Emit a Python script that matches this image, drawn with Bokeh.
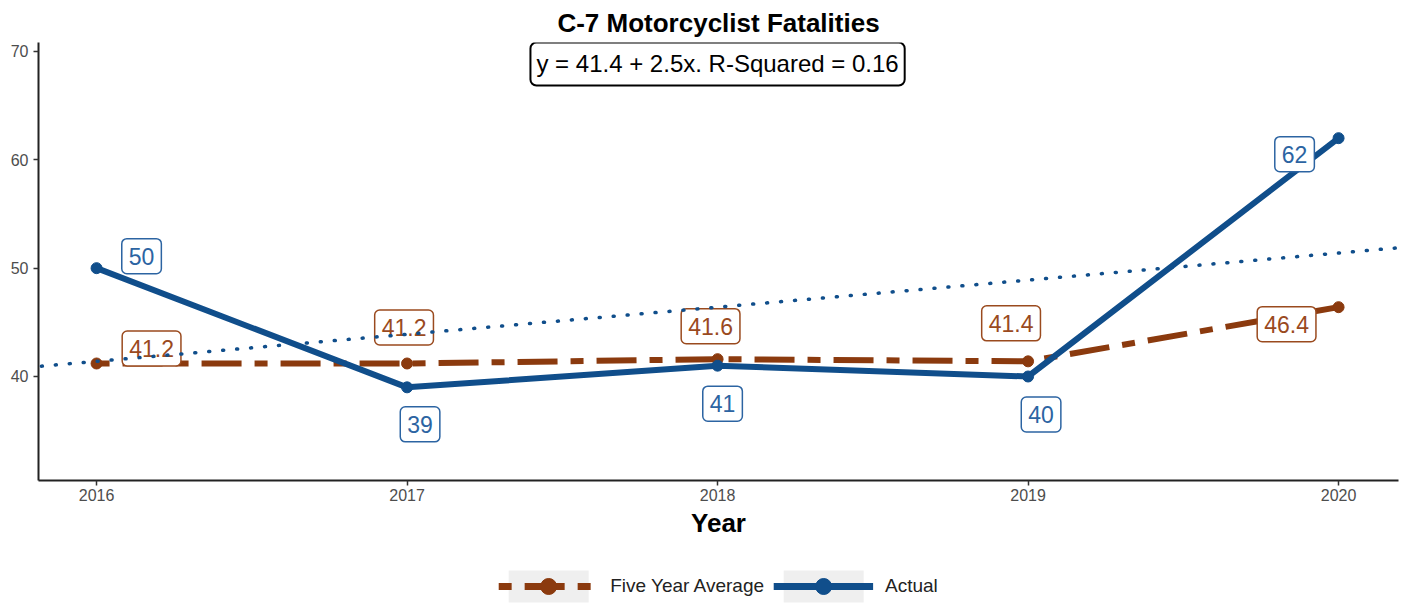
import numpy as np
from bokeh.plotting import figure
from bokeh.layouts import column
from bokeh.models import Range1d, FixedTicker, Legend, LegendItem, Slope, Label, ColumnDataSource
from bokeh.core.properties import value
from bokeh.embed import file_html
from bokeh.resources import INLINE

# ---- data ----
years = [2016, 2017, 2018, 2019, 2020]
actual = [50, 39, 41, 40, 62]
five_year_avg = [41.2, 41.2, 41.6, 41.4, 46.4]
actual_labels = ["50", "39", "41", "40", "62"]
avg_labels = ["41.2", "41.2", "41.6", "41.4", "46.4"]
x_ticks = [2016, 2017, 2018, 2019, 2020]
y_ticks = [40, 50, 60, 70]
series_names = ["Five Year Average", "Actual"]
title_text = "C-7 Motorcyclist Fatalities"
x_title = "Year"

# label nudges in screen pixels (label-repel style)
actual_dx = [45, 13, 5, 13, -44]
actual_dy = [-12, 37, 38, 38, 16]
avg_dx = [55, -3, -7, -17, -52]
avg_dy = [-15, -36, -33, -38, 17]

# ---- styles ----
BLUE = "#104E8B"
BROWN = "#8B3A0E"
BLUE_LBL = "#2C64A2"
BROWN_LBL = "#9A4A1E"
FONT = "Liberation Sans"
AVG_DASH = "13 13 40 13"

# regression of actual on year index
xi = np.arange(len(years))
slope, intercept = np.polyfit(xi, actual, 1)
pred = intercept + slope * xi
r2 = 1 - np.sum((np.array(actual) - pred) ** 2) / np.sum((np.array(actual) - np.mean(actual)) ** 2)
eq_text = f"y = {intercept:.1f} + {slope:.1f}x. R-Squared = {r2:.2f}"

p = figure(
    frame_width=1360, frame_height=438,
    x_range=Range1d(2015.813, 2020.193), y_range=Range1d(30.40, 70.83),
    output_backend="svg", toolbar_location=None,
    min_border_left=38, min_border_right=10, min_border_top=42, min_border_bottom=82,
)
p.outline_line_color = None
p.xgrid.visible = False
p.ygrid.visible = False

p.title.text = title_text
p.title.align = "center"
p.title.text_font = FONT
p.title.text_font_size = "26px"
p.title.text_font_style = "bold"
p.title.text_color = "black"
p.title.standoff = 10

for ax in (p.xaxis[0], p.yaxis[0]):
    ax.axis_line_color = "#222222"
    ax.axis_line_width = 2
    ax.major_tick_line_color = "#333333"
    ax.major_tick_line_width = 1.5
    ax.major_tick_out = 5
    ax.major_tick_in = 0
    ax.minor_tick_line_color = None
    ax.major_label_text_font = FONT
    ax.major_label_text_font_size = "16px"
    ax.major_label_text_color = "#4d4d4d"
p.xaxis.ticker = FixedTicker(ticks=x_ticks)
p.yaxis.ticker = FixedTicker(ticks=y_ticks)
p.xaxis.major_label_standoff = 3
p.yaxis.major_label_standoff = 5
p.xaxis.axis_label = x_title
p.xaxis.axis_label_text_font = FONT
p.xaxis.axis_label_text_font_size = "26px"
p.xaxis.axis_label_text_font_style = "bold"
p.xaxis.axis_label_text_color = "black"
p.xaxis.axis_label_standoff = 4

# trend line
p.add_layout(Slope(gradient=slope, y_intercept=intercept - slope * years[0],
                   line_color=BLUE, line_width=3.5, line_dash="1 13", line_cap="round"))

src = ColumnDataSource(dict(x=years, act=actual, avg=five_year_avg,
                            act_t=actual_labels, avg_t=avg_labels,
                            adx=actual_dx, ady=actual_dy, vdx=avg_dx, vdy=avg_dy))

p.line("x", "avg", source=src, line_color=BROWN, line_width=6, line_dash=AVG_DASH)
p.line("x", "act", source=src, line_color=BLUE, line_width=6)
p.scatter("x", "avg", source=src, size=11, fill_color=BROWN, line_color=BROWN)
p.scatter("x", "act", source=src, size=11, fill_color=BLUE, line_color=BLUE)

common = dict(source=src, text_align="center", text_baseline="middle",
              text_font=value(FONT), text_font_size="23px",
              background_fill_color="white", border_line_width=1.5,
              padding=(7, 9), border_radius=5)
p.text(x="x", y="avg", text="avg_t", x_offset="vdx", y_offset="vdy",
       text_color=BROWN_LBL, border_line_color=BROWN_LBL, **common)
p.text(x="x", y="act", text="act_t", x_offset="adx", y_offset="ady",
       text_color=BLUE_LBL, border_line_color=BLUE_LBL, **common)

p.add_layout(Label(x=years[2], y=68.85, text=eq_text, text_align="center", text_baseline="middle",
                   text_font=FONT, text_font_size="24px", text_color="black",
                   background_fill_color="white", border_line_color="black", border_line_width=2,
                   padding=(6, 8), border_radius=6))

# ---- legend strip below the chart (same series, drawn out of this strip's view) ----
lg = figure(frame_width=1360, frame_height=48, output_backend="svg", toolbar_location=None,
            x_range=Range1d(0, 1), y_range=Range1d(0, 1),
            x_axis_location=None, y_axis_location=None,
            min_border_left=38, min_border_right=10, min_border_top=0, min_border_bottom=0)
lg.outline_line_color = None
lg.xgrid.visible = False
lg.ygrid.visible = False
bg = lg.rect("x", "avg", width=1, height=1, source=src, fill_color="#efefef", line_color=None)
l_avg = lg.line("x", "avg", source=src, line_color=BROWN, line_width=7, line_dash=AVG_DASH)
s_avg = lg.scatter("x", "avg", source=src, size=12, fill_color=BROWN, line_color=BROWN)
l_act = lg.line("x", "act", source=src, line_color=BLUE, line_width=7)
s_act = lg.scatter("x", "act", source=src, size=12, fill_color=BLUE, line_color=BLUE)

legend = Legend(items=[
    LegendItem(label=series_names[0], renderers=[bg, l_avg, s_avg]),
    LegendItem(label=series_names[1], renderers=[bg, l_act, s_act]),
], orientation="horizontal", location="center",
    glyph_width=100, glyph_height=40, label_standoff=12, spacing=9,
    padding=0, margin=0, border_line_color=None, background_fill_alpha=0,
    label_text_font=FONT, label_text_font_size="19px", label_text_color="#222222")
lg.add_layout(legend, "center")

layout = column(p, lg, spacing=0)
open("out.html", "w").write(file_html(layout, INLINE))
